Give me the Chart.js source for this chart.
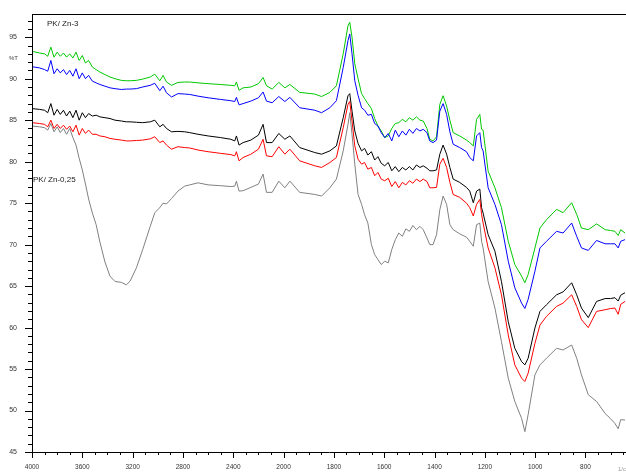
<!DOCTYPE html>
<html lang="es">
<head>
    <meta charset="UTF-8">
    <title>FTIR PK/Zn</title>
    <script src="https://cdn.jsdelivr.net/npm/chart.js"></script>
    <style>
        html, body { margin: 0; padding: 0; background: #fff; }
        #wrap { width: 626px; height: 473px; }
    </style>
</head>
<body>
<div id="wrap"><canvas id="ftir" width="626" height="473"></canvas></div>
<script>
// numero de onda (1/cm)
const wavenumbers = [4000, 3940, 3900, 3875, 3850, 3825, 3800, 3775, 3750, 3725, 3700, 3675, 3650, 3625, 3600, 3575, 3550, 3520, 3490, 3460,
    3420, 3380, 3340, 3290, 3250, 3220, 3170, 3120, 3060, 3024, 2984, 2958, 2931, 2891, 2840, 2786, 2746, 2680, 2600, 2500,
    2420, 2388, 2375, 2354, 2322, 2260, 2200, 2163, 2136, 2091, 2038, 1995, 1975, 1936, 1876, 1849, 1816, 1790, 1763, 1744,
    1737, 1728, 1717, 1704, 1690, 1678, 1665, 1651, 1638, 1625, 1612, 1598, 1584, 1570, 1556, 1542, 1528, 1514, 1500, 1486,
    1472, 1458, 1445, 1430, 1419, 1406, 1392, 1379, 1366, 1352, 1339, 1326, 1300, 1273, 1260, 1246, 1233, 1220, 1213, 1207,
    1187, 1160, 1134, 1107, 1081, 1054, 1041, 1028, 1001, 981, 955, 915, 889, 855, 835, 816, 789, 756, 722, 700,
    683, 670, 660, 643];

const green = [93.3, 93.1, 93.0, 92.7, 93.8, 92.6, 93.2, 92.7, 93.1, 92.6, 93.0, 92.5, 93.2, 92.2, 92.8, 91.9, 92.2, 91.4, 91.1, 90.8,
    90.5, 90.2, 90.0, 89.8, 89.75, 89.75, 89.8, 89.95, 90.2, 90.55, 89.75, 90.4, 89.6, 89.2, 89.55, 89.6, 89.6, 89.5, 89.4, 89.3,
    89.2, 89.15, 89.6, 88.6, 88.9, 89.0, 89.4, 90.15, 89.15, 88.75, 89.55, 88.9, 89.3, 88.35, 88.15, 87.85, 88.35, 89.15, 93.0, 96.4,
    96.8, 95.0, 91.8, 90.0, 88.2, 87.6, 87.0, 86.4, 85.2, 84.3, 83.7, 82.9, 83.1, 84.0, 84.6, 84.7, 85.1, 84.8, 85.3, 85.0,
    85.4, 85.0, 84.9, 84.0, 82.7, 82.5, 83.0, 86.9, 87.95, 86.7, 85.0, 83.5, 83.1, 82.6, 82.3, 81.9, 85.1, 85.7, 83.9, 83.8,
    78.85, 76.85, 74.45, 70.4, 67.6, 66.2, 65.4, 66.4, 69.6, 72.0, 73.0, 74.25, 73.85, 75.05, 73.65, 72.0, 71.8, 72.5, 71.8, 71.7,
    71.6, 71.1, 71.8, 71.4];

const blue = [91.45, 91.3, 91.1, 90.9, 92.2, 90.6, 91.2, 90.7, 91.1, 90.5, 91.0, 90.3, 91.2, 90.0, 90.7, 90.0, 90.4, 89.7, 89.5, 89.3,
    89.1, 88.9, 88.8, 88.7, 88.75, 88.75, 88.8, 89.0, 89.2, 89.45, 88.55, 89.1, 88.3, 87.8, 88.2, 88.15, 88.1, 87.9, 87.7, 87.5,
    87.35, 87.25, 87.75, 86.85, 87.0, 87.3, 87.7, 88.4, 87.3, 87.1, 87.85, 87.25, 87.75, 86.5, 86.2, 85.9, 86.5, 87.35, 91.35, 94.6,
    95.4, 93.0, 89.75, 88.0, 86.5, 86.2, 85.6, 85.7, 84.6, 84.3, 83.5, 82.9, 83.4, 82.5, 83.8, 83.0, 83.7, 83.2, 83.9, 83.4,
    84.0, 83.7, 83.9, 83.5, 82.5, 82.3, 82.6, 86.1, 87.0, 85.7, 83.6, 82.1, 81.7, 81.2, 80.5, 80.1, 83.1, 83.5, 81.7, 81.3,
    76.85, 74.85, 72.4, 68.0, 64.8, 62.95, 62.3, 63.4, 66.8, 69.6, 70.4, 71.6, 71.4, 72.6, 71.0, 69.6, 69.3, 70.5, 70.1, 70.1,
    70.1, 69.6, 70.4, 70.6];

const black = [86.4, 86.3, 86.2, 85.9, 87.0, 85.6, 86.3, 85.7, 86.2, 85.5, 86.1, 85.3, 86.2, 85.0, 85.9, 85.3, 85.8, 85.5, 85.6, 85.4,
    85.3, 85.2, 85.0, 84.9, 84.8, 84.8, 84.75, 84.7, 84.8, 85.0, 84.2, 84.5, 84.0, 83.6, 83.65, 83.6, 83.5, 83.3, 83.1, 82.9,
    82.7, 82.5, 83.1, 82.0, 82.3, 82.6, 83.2, 84.5, 82.3, 82.3, 83.4, 82.7, 83.1, 81.7, 81.1, 80.9, 81.3, 81.9, 85.3, 87.95,
    88.2, 86.1, 83.7, 82.2, 81.3, 81.6, 80.8, 81.2, 80.2, 80.6, 79.8, 79.5, 79.9, 78.9, 79.4, 78.8, 79.3, 79.0, 79.4, 79.0,
    79.6, 79.3, 79.5, 79.2, 78.9, 78.9, 79.0, 80.9, 82.0, 80.9, 79.3, 77.9, 77.5, 76.9, 76.45, 75.05, 76.45, 76.7, 74.45, 73.8,
    71.2, 69.2, 65.55, 60.7, 57.5, 55.9, 55.5, 56.3, 59.95, 61.95, 62.75, 63.95, 64.3, 65.4, 63.95, 62.35, 61.2, 63.15, 63.5, 63.5,
    63.6, 63.2, 63.9, 64.2];

const red = [84.7, 84.6, 84.5, 84.2, 85.0, 84.0, 84.5, 84.0, 84.4, 83.9, 84.3, 83.6, 84.4, 83.2, 84.0, 83.4, 83.8, 83.3, 83.3, 83.1,
    83.0, 82.8, 82.7, 82.6, 82.5, 82.5, 82.55, 82.6, 82.75, 83.0, 82.3, 82.5, 82.0, 81.5, 81.8, 81.7, 81.65, 81.4, 81.2, 81.0,
    80.85, 80.7, 81.2, 80.1, 80.5, 80.9, 81.5, 82.7, 80.7, 80.6, 81.8, 80.9, 81.5, 80.1, 79.5, 79.3, 79.9, 80.5, 84.1, 86.9,
    87.25, 84.9, 81.9, 80.3, 79.7, 79.9, 79.1, 79.3, 78.3, 78.7, 77.9, 77.7, 78.0, 77.0, 77.6, 76.85, 77.5, 77.2, 77.7, 77.4,
    77.9, 77.6, 77.9, 77.6, 76.85, 76.85, 76.9, 79.7, 80.4, 79.3, 77.5, 76.05, 75.7, 75.0, 74.45, 73.45, 74.85, 75.45, 73.65, 72.6,
    69.6, 67.2, 63.95, 59.1, 55.5, 53.9, 53.5, 54.5, 58.1, 60.3, 61.35, 62.55, 62.95, 63.95, 62.55, 60.95, 60.0, 61.95, 62.15, 62.3,
    62.35, 61.6, 62.8, 63.15];

const gray = [84.3, 84.2, 84.1, 83.8, 84.6, 83.6, 84.2, 83.5, 84.0, 83.3, 84.0, 82.9, 82.0, 80.4, 79.0, 77.3, 75.5, 73.8, 72.4, 70.3,
    67.9, 66.2, 65.55, 65.45, 65.15, 65.6, 67.2, 69.4, 72.2, 73.85, 74.45, 75.0, 74.9, 75.55, 76.45, 77.05, 77.2, 77.45, 77.2, 77.1,
    77.0, 77.05, 77.65, 76.45, 76.5, 76.9, 77.3, 78.5, 76.3, 76.3, 77.65, 76.85, 77.65, 76.3, 76.05, 75.85, 76.85, 77.9, 81.3, 84.5,
    85.9, 83.3, 79.7, 76.05, 74.85, 73.6, 72.6, 70.0, 68.8, 68.2, 67.6, 68.0, 67.8, 69.4, 70.6, 71.4, 71.0, 71.9, 71.6, 72.3,
    71.8, 72.2, 71.8, 70.8, 70.0, 70.0, 71.2, 74.2, 75.85, 74.85, 72.4, 71.8, 71.3, 70.9, 70.4, 69.8, 72.4, 72.6, 70.4, 69.6,
    65.55, 62.35, 58.3, 53.9, 51.1, 49.05, 47.45, 49.5, 54.3, 55.5, 56.3, 57.5, 57.3, 57.9, 56.3, 54.3, 51.9, 51.1, 49.65, 49.0,
    48.45, 47.8, 48.9, 48.85];

const xTickLabels = [4000, 3600, 3200, 2800, 2400, 2000, 1800, 1600, 1400, 1200, 1000, 800];
const yTickLabels = [45, 50, 55, 60, 65, 70, 75, 80, 85, 90, 95];

// eje x con cambio de escala en 2000 (la mitad de compresion arriba de 2000)
function toAxis(wn) { return wn >= 2000 ? (4000 - wn) / 2 : 1000 + (2000 - wn); }
function fromAxis(u) { return u <= 1000 ? 4000 - 2 * u : 2000 - (u - 1000); }

function serie(values, color) {
    return {
        data: values.map((v, i) => ({ x: toAxis(wavenumbers[i]), y: v })),
        borderColor: color,
        borderWidth: 1,
        pointRadius: 0,
        tension: 0,
        fill: false
    };
}

// ejes, marcas menores, borde superior y rotulos
const decor = {
    id: 'decor',
    afterDraw(chart) {
        const ctx = chart.ctx;
        const a = chart.chartArea;
        const xs = chart.scales.x, ys = chart.scales.y;
        ctx.save();
        ctx.strokeStyle = '#000';
        ctx.lineWidth = 1;
        ctx.beginPath();
        ctx.moveTo(a.left + 0.5, a.top + 0.5);
        ctx.lineTo(a.left + 0.5, a.bottom + 0.5);
        ctx.lineTo(a.right, a.bottom + 0.5);
        ctx.moveTo(a.left, a.top + 0.5);
        ctx.lineTo(a.right, a.top + 0.5);
        for (let u = 0; u <= xs.max; u += 50) {
            const px = Math.round(xs.getPixelForValue(u)) + 0.5;
            const len = u % 200 === 0 ? 6 : 3;
            ctx.moveTo(px, a.bottom);
            ctx.lineTo(px, a.bottom + len);
        }
        for (let v = 45; v <= 97; v += 1) {
            const py = Math.round(ys.getPixelForValue(v)) + 0.5;
            const len = v % 5 === 0 ? 7 : 4;
            ctx.moveTo(a.left, py);
            ctx.lineTo(a.left - len, py);
        }
        ctx.stroke();

        ctx.fillStyle = '#222';
        ctx.font = '8px "Liberation Sans", Arial, sans-serif';
        ctx.textBaseline = 'alphabetic';
        ctx.fillText('PK/ Zn-3', 47, 26);
        ctx.fillText('PK/ Zn-0,25', 33, 182);
        ctx.fillStyle = '#444';
        ctx.font = '6px "Liberation Sans", Arial, sans-serif';
        ctx.fillText('%T', 9, 60);
        ctx.fillStyle = '#999';
        ctx.fillText('1/cm', 618, 471);
        ctx.restore();
    }
};

new Chart(document.getElementById('ftir'), {
    type: 'line',
    data: {
        datasets: [
            serie(gray, '#808080'),
            serie(red, '#ff0000'),
            serie(black, '#000000'),
            serie(blue, '#0000ff'),
            serie(green, '#00c800')
        ]
    },
    options: {
        responsive: false,
        animation: false,
        layout: { padding: { top: 14, right: 0, left: 0, bottom: 0 } },
        plugins: { legend: { display: false }, tooltip: { enabled: false } },
        scales: {
            x: {
                type: 'linear',
                min: 0,
                max: toAxis(639),
                grid: { display: false },
                border: { display: false },
                afterBuildTicks: s => { s.ticks = xTickLabels.map(w => ({ value: toAxis(w) })); },
                afterFit: s => { s.height = 21; },
                ticks: {
                    autoSkip: false,
                    maxRotation: 0,
                    padding: 3,
                    color: '#333',
                    font: { family: '"Liberation Sans", Arial, sans-serif', size: 6.5 },
                    callback: v => String(fromAxis(v))
                }
            },
            y: {
                min: 45,
                max: 97.8,
                grid: { display: false },
                border: { display: false },
                afterBuildTicks: s => { s.ticks = yTickLabels.map(v => ({ value: v })); },
                afterFit: s => { s.width = 32; },
                ticks: {
                    padding: 7,
                    color: '#333',
                    font: { family: '"Liberation Sans", Arial, sans-serif', size: 7 },
                    callback: v => String(v)
                }
            }
        }
    },
    plugins: [decor]
});
</script>
</body>
</html>
